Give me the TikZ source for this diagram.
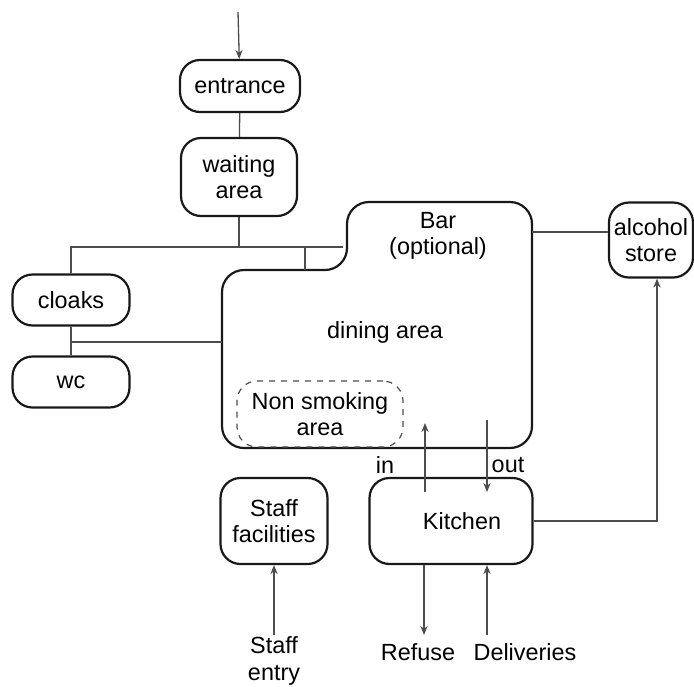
\documentclass[tikz,border=0pt]{standalone}
\usepackage{fontspec}
\setmainfont{Liberation Sans}
\usepackage{tikz}
\usetikzlibrary{positioning}
\usetikzlibrary{calc}
\usetikzlibrary{arrows.meta}
\tikzset{
  box/.style     = { rectangle, align=center, inner sep=0pt },
  border/.style  = { line width=1.1pt, draw=black!90 },
  round/.style   = { rounded corners=10pt },
}
\tikzset{
  room/.style    = { box, border, round },
  zone/.style    = { box, draw=black!70, dashed, line width=0.6pt, round },
  link/.style    = { line width=0.65pt, draw=black!70 },
  tag/.style     = { box }
}

\begin{document}
\begin{tikzpicture}[
  x=0.5pt,y=-0.5pt,
  >={Stealth[length=4.5pt,width=3.6pt]},
  font=\fontsize{11.7}{13.2}\selectfont,
  every new ->/.style={shorten >=0pt}
]
  \useasboundingbox (0,0) rectangle (694,686);

  % rooms
  \node (entrance) [room,minimum width=60pt,minimum height=26pt]   at (240,86)  {entrance};
  \node (waiting)  [room,minimum width=58pt,minimum height=39pt]   at (239,177) {waiting\\area};
  \node (cloaks)   [room,minimum width=58.5pt,minimum height=25.5pt] at (71,300)  {cloaks};
  \node (wc)       [room,minimum width=58.5pt,minimum height=25.5pt] at (71,382)  {wc};
  \node (alcohol)  [room,minimum width=42pt,minimum height=37.5pt] at (651,240) {alcohol\\store};
  \node (staff)    [room,minimum width=53.5pt,minimum height=43pt] at (274,521) {Staff\\facilities};
  \node (kitchen)  [room,minimum width=81.5pt,minimum height=43pt] at (451,521) {\hspace*{11pt}Kitchen};

  % dining area with bar
  \draw [line width=1.1pt,draw=black!90,rounded corners=11pt]
        (222,400) -- (222,270) -- (347,270) -- (347,202)
        -- (532,202) -- (532,448) -- (222,448) -- cycle;
  \node (bar)    [tag] at (438,236) {Bar\\(optional)};
  \node (dining) [tag] at (385,332) {dining area};
  \node (nonsmk) [zone,minimum width=83pt,minimum height=33pt] at (320,414) {Non smoking\\area};

  % outside ends and junctions
  \coordinate (door)  at (238,12);
  \coordinate (hall)  at (343,247);
  \coordinate (dtop)  at (305,270);
  \coordinate (dleft) at (222,342);
  \coordinate (dright) at (532,232);
  \coordinate (inA)   at (425,492);
  \coordinate (inB)   at (425,423);
  \coordinate (outA)  at (487,420);
  \coordinate (outB)  at (487,492);
  \coordinate (ref)   at (424,635);
  \coordinate (del)   at (487,635);
  \coordinate (sen)   at (274,635);

  \node (refuse)     [tag] at (418,652) {Refuse};
  \node (deliveries) [tag] at (525,652) {Deliveries};
  \node (entry)      [tag] at (274,661) {Staff\\entry};
  \node (inlbl)      [tag] at (385,465) {in};
  \node (outlbl)     [tag] at (508,465) {out};

  \draw [link,->] (door) -- (entrance);
  \draw [link] (entrance) -- (waiting);
  \draw [link] (waiting) -- (waiting |- hall);
  \draw [link] (cloaks) |- (hall);
  \draw [link] (dtop |- hall) -- (dtop);
  \draw [link] (cloaks) -- (wc);
  \draw [link] (dleft -| cloaks) -- (dleft);
  \draw [link] (dright) -- (dright -| alcohol.west);

  \draw [link,->] (kitchen.east) -| ($ (alcohol.south) + (6,0) $);
  \draw [link,->] (inA) -- (inB);
  \draw [link,->] (outA) -- (outB);
  \draw [link,->] (kitchen.south -| ref) -- (ref);
  \draw [link,->] (del) -- (kitchen.south -| del);
  \draw [link,->] (sen) -- (staff);

\end{tikzpicture}
\end{document}
